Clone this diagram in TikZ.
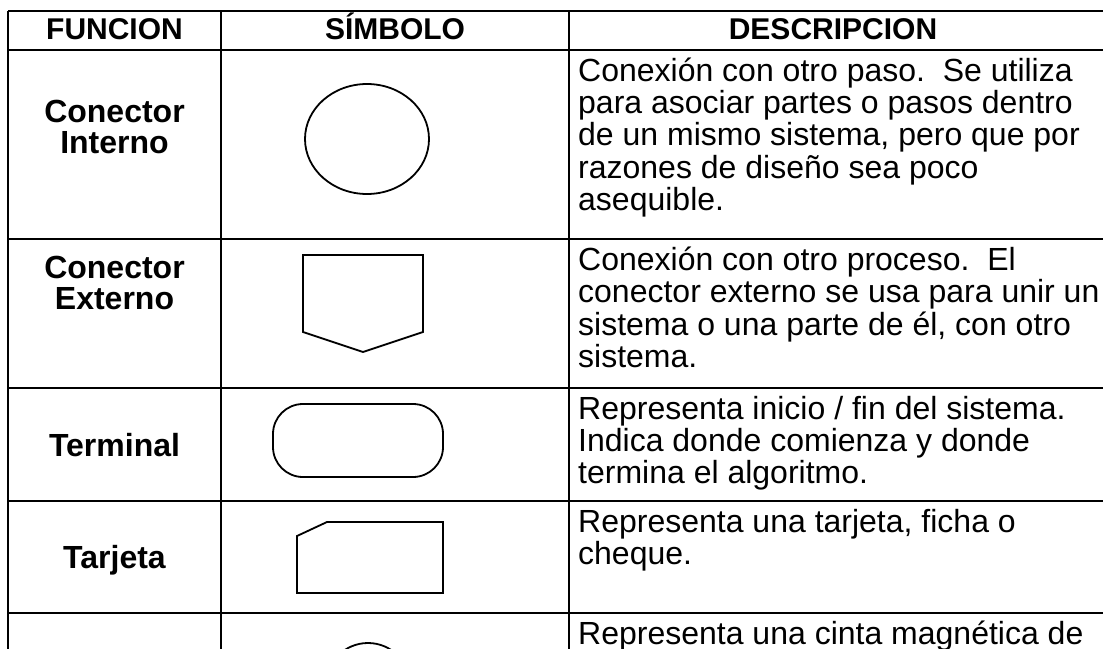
\documentclass[tikz,border=0pt]{standalone}
\usepackage{fontspec}
\setmainfont{Liberation Sans}
\begin{document}
\begin{tikzpicture}[x=1pt,y=-1pt,
  grid/.style={line width=2.6pt},
  symb/.style={line width=1.8pt, line join=miter},
  hdr/.style={inner sep=0pt, anchor=base, font=\fontsize{30}{31}\selectfont\bfseries},
  lbl/.style={inner sep=0pt, anchor=base, font=\fontsize{32}{31}\selectfont\bfseries},
  desc/.style={inner sep=0pt, anchor=base west, font=\fontsize{32}{30.7}\selectfont}]
\useasboundingbox (0,0) rectangle (1103,648);
\fill[white] (0,0) rectangle (1103,648);
\begin{scope}
\clip (0,0) rectangle (1103,648);
% grid
\foreach \yy in {11,50,239,388,501,613}
  \draw[grid] (8,\yy) -- (1115,\yy);
\foreach \xx in {8,221,569}
  \draw[grid] (\xx,11) -- (\xx,660);
% magnetic tape symbol (cut off)
\draw[symb] (368,685) circle [radius=42];
\end{scope}
% header
\node[hdr] (h1) at (114.5,39.3) {FUNCION};
\node[hdr] (h2) at (395,39.3) {SÍMBOLO};
\node[hdr] (h3) at (833,39.3) {DESCRIPCION};
% labels
\node[lbl] (l1) at (114.5,122.5) {\begin{tabular}[t]{@{}c@{}}Conector\\Interno\end{tabular}};
\node[lbl] (l2) at (114.5,278) {\begin{tabular}[t]{@{}c@{}}Conector\\Externo\end{tabular}};
\node[lbl] (l3) at (114.5,456.5) {Terminal};
\node[lbl] (l4) at (114.5,568) {Tarjeta};
% symbols
\draw[symb] (367,139) ellipse [x radius=62, y radius=55];
\draw[symb] (303,255) -- (423,255) -- (423,332) -- (363,352) -- (303,332) -- cycle;
\draw[symb, rounded corners=30pt] (273,404) rectangle (443,477);
\draw[symb] (297,536) -- (327,522) -- (443,522) -- (443,593) -- (297,593) -- cycle;
% descriptions
\node[desc] (d1) at (578,81) {\begin{tabular}[t]{@{}l@{}}Conexión con otro paso.\ \ Se utiliza\\para asociar partes o pasos dentro\\de un mismo sistema, pero que por\\razones de diseño sea poco\\asequible.\end{tabular}};
\node[desc] (d2) at (578,270) {\begin{tabular}[t]{@{}l@{}}Conexión con otro proceso.\ \ El\\conector externo se usa para unir un\\sistema o una parte de él, con otro\\sistema.\end{tabular}};
\node[desc] (d3) at (578,419) {\begin{tabular}[t]{@{}l@{}}Representa inicio / fin del sistema.\\Indica donde comienza y donde\\termina el algoritmo.\end{tabular}};
\node[desc] (d4) at (578,532) {\begin{tabular}[t]{@{}l@{}}Representa una tarjeta, ficha o\\cheque.\end{tabular}};
\node[desc] (d5) at (578,644) {Representa una cinta magnética de};
\end{tikzpicture}
\end{document}
